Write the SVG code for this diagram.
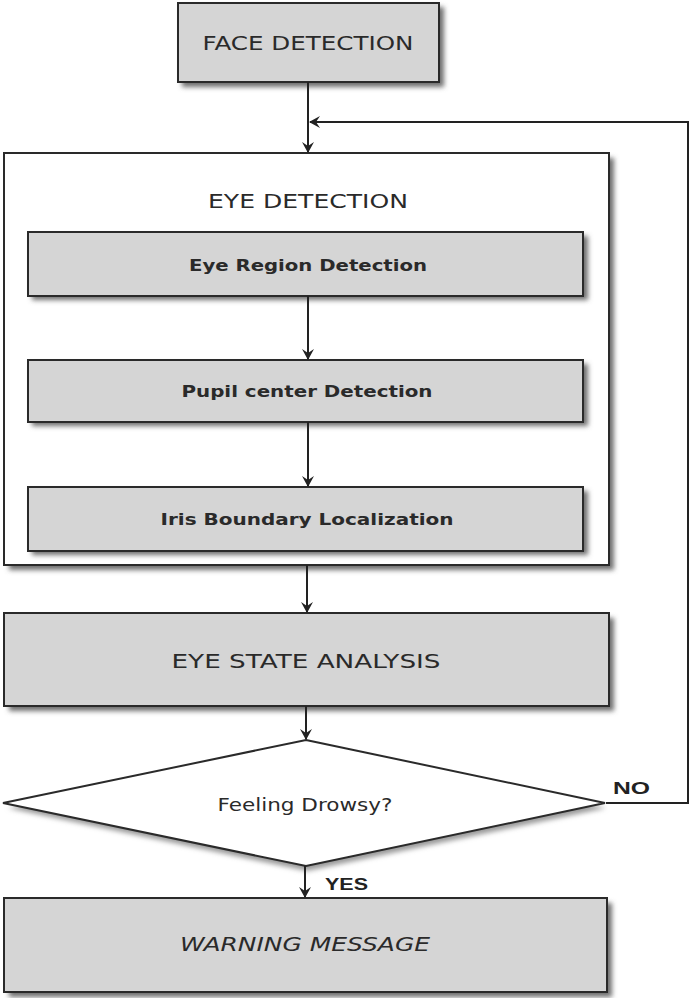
<svg xmlns="http://www.w3.org/2000/svg" width="691" height="998" viewBox="0 0 691 998">
<defs>
<filter id="sh" x="-10%" y="-10%" width="130%" height="140%"><feGaussianBlur stdDeviation="2.5"/></filter>
<marker id="ah" markerWidth="12" markerHeight="12" refX="10" refY="6" orient="auto" markerUnits="userSpaceOnUse"><path d="M0,0 L11,6 L0,12 L4,6 Z" fill="#222"/></marker>
</defs>
<style>
.box{fill:#d5d5d5;stroke:#2a2a2a;stroke-width:2}
.wbox{fill:#ffffff;stroke:#2a2a2a;stroke-width:2}
.shd{fill:#6e6e6e;filter:url(#sh)}
.t{font-family:"DejaVu Sans","Liberation Sans",sans-serif;fill:#2a2a2a;text-anchor:middle;dominant-baseline:middle}
.big{font-size:19px}
.small{font-size:16px;font-weight:bold}
.lbl{font-family:"Liberation Sans",Arial,sans-serif;font-weight:bold;font-size:17px;fill:#222}
.ln{fill:none;stroke:#222;stroke-width:2}
</style>
<g id="face-detection">
<rect class="shd" x="182" y="7" width="262" height="80"/>
<rect class="box" x="178" y="3" width="261" height="79"/>
<text class="t big" x="308" y="44" textLength="211" lengthAdjust="spacingAndGlyphs">FACE DETECTION</text>
</g>
<g id="eye-detection">
<rect class="shd" x="9" y="158" width="605" height="412"/>
<rect class="wbox" x="4" y="153" width="605" height="412"/>
<text class="t big" x="308" y="202" textLength="200" lengthAdjust="spacingAndGlyphs">EYE DETECTION</text>
</g>
<g id="eye-region-detection">
<rect class="shd" x="32" y="236" width="556" height="64"/>
<rect class="box" x="28" y="232" width="555" height="64"/>
<text class="t small" x="308" y="266" textLength="238" lengthAdjust="spacingAndGlyphs">Eye Region Detection</text>
</g>
<g id="pupil-center-detection">
<rect class="shd" x="32" y="364" width="556" height="62"/>
<rect class="box" x="28" y="360" width="555" height="62"/>
<text class="t small" x="307" y="392" textLength="251" lengthAdjust="spacingAndGlyphs">Pupil center Detection</text>
</g>
<g id="iris-boundary-localization">
<rect class="shd" x="32" y="491" width="556" height="64"/>
<rect class="box" x="28" y="487" width="555" height="64"/>
<text class="t small" x="307" y="520" textLength="293" lengthAdjust="spacingAndGlyphs">Iris Boundary Localization</text>
</g>
<g id="eye-state-analysis">
<rect class="shd" x="9" y="618" width="605" height="93"/>
<rect class="box" x="4" y="613" width="605" height="93"/>
<text class="t big" x="306" y="662" textLength="269" lengthAdjust="spacingAndGlyphs">EYE STATE ANALYSIS</text>
</g>
<g id="feeling-drowsy">
<polygon points="307,745 606,808 307,871 8,808" fill="#9a9a9a" filter="url(#sh)"/>
<polygon points="306,740 605,803 306,866 3,803" fill="#ffffff" stroke="#2a2a2a" stroke-width="2"/>
<text class="t" x="305" y="806" font-size="18" textLength="175" lengthAdjust="spacingAndGlyphs">Feeling Drowsy?</text>
</g>
<g id="warning-message">
<rect class="shd" x="9" y="903" width="603" height="94"/>
<rect class="box" x="4" y="898" width="603" height="94"/>
<text class="t big" x="305" y="945" font-style="italic" textLength="250" lengthAdjust="spacingAndGlyphs">WARNING MESSAGE</text>
</g>
<g id="connectors">
<line class="ln" x1="308" y1="82" x2="308" y2="152" marker-end="url(#ah)"/>
<polyline class="ln" points="606,803 688,803 688,122 310,122" marker-end="url(#ah)"/>
<line class="ln" x1="308" y1="296" x2="308" y2="359" marker-end="url(#ah)"/>
<line class="ln" x1="308" y1="422" x2="308" y2="486" marker-end="url(#ah)"/>
<line class="ln" x1="307" y1="565" x2="307" y2="612" marker-end="url(#ah)"/>
<line class="ln" x1="306" y1="706" x2="306" y2="739" marker-end="url(#ah)"/>
<line class="ln" x1="305" y1="866" x2="305" y2="897" marker-end="url(#ah)"/>
<text class="lbl" x="613" y="794" textLength="37" lengthAdjust="spacingAndGlyphs">NO</text>
<text class="lbl" x="325" y="890" textLength="43" lengthAdjust="spacingAndGlyphs">YES</text>
</g>
</svg>
